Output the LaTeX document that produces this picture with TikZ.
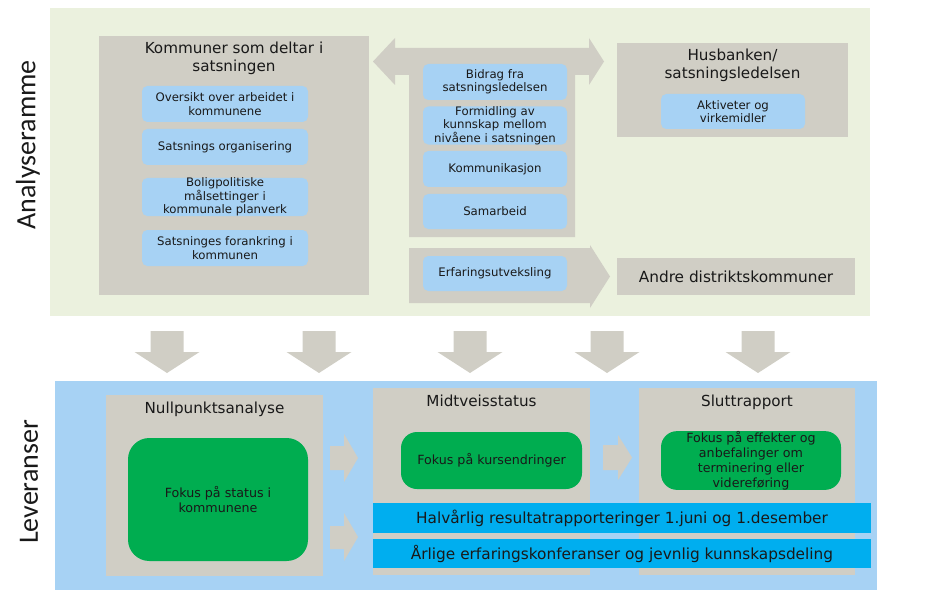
\documentclass[tikz,border=0pt]{standalone}
\usepackage{fontspec}
\setmainfont{DejaVu Sans}
\newfontfamily\labelfont{Carlito}

\definecolor{framegreen}{HTML}{EBF1DE}
\definecolor{frameblue}{HTML}{A7D2F4}
\definecolor{boxgray}{HTML}{D0CEC5}
\definecolor{itemblue}{HTML}{A7D2F4}
\definecolor{focusgreen}{HTML}{00AD50}
\definecolor{barcyan}{HTML}{00AEEF}

\begin{document}
\begin{tikzpicture}[%
    x=0.75pt, y=-0.75pt,        % work in pixels of the sketch, y downwards
    every node/.style={text=black!90},
    ]
% -------------------------------------------------
% Styles for frames, boxes and block arrows
\tikzset{
  size/.style 2 args={minimum width=#1*0.75pt, minimum height=#2*0.75pt},
  base/.style={inner sep=0pt, align=center},
  panel/.style={base, fill=boxgray},
  title/.style={base, anchor=north, font={\fontsize{11.4}{13.5}\selectfont}},
  item/.style={base, fill=itemblue, rounded corners=4pt,
    font={\fontsize{8.8}{10}\selectfont}},
  focus/.style={base, fill=focusgreen, rounded corners=12pt,
    font={\fontsize{9.5}{11.25}\selectfont}},
  bar/.style={base, fill=barcyan, font={\fontsize{11.5}{13}\selectfont}},
  blockarr/.style={fill=boxgray},
  side/.style={rotate=90, font={\labelfont\fontsize{21}{25}\selectfont}}
}
\useasboundingbox (0,0) rectangle (937,595);
% -------------------------------------------------
% The two frames
\node [base, fill=framegreen, size={820}{308}] (analyse) at (460,162) {};
\node [base, fill=frameblue, size={822}{209}] (lever) at (466,485.5) {};
\node [side] (analyselbl) at (28,145) {Analyseramme};
\node [side] (leverlbl) at (29,482) {Leveranser};

% -------------------------------------------------
% Analysis frame
\node [panel, size={270}{259}] (kommuner) at (234,165.5) {};
\node [title] (kommunertitle) at (234,42) {Kommuner som deltar i\\satsningen};
\node [item, size={166}{36}] (oversikt) at (225,104)
  {Oversikt over arbeidet i\\kommunene};
\node [item, size={166}{36}] (organisering) at (225,147) {Satsnings organisering};
\node [item, size={166}{36}] (bolig) at (225,197)
  {Boligpolitiske\\målsettinger i\\kommunale planverk};
\node [item, size={166}{36}] (forankring) at (225,248)
  {Satsninges forankring i\\kommunen};

\node [panel, size={231}{94}] (husbanken) at (732.5,90) {};
\node [title] (husbankentitle) at (732.5,49) {Husbanken/\\satsningsledelsen};
\node [item, size={144}{35}] (aktiviteter) at (733,111.5) {Aktiveter og\\virkemidler};

\node [panel, size={238}{37}, font={\fontsize{11.5}{13.5}\selectfont}]
  (andre) at (736,276.5) {Andre distriktskommuner};

% Double arrow with the middle column
\fill [blockarr] (373,61.5) -- (395,38) -- (395,48) -- (589,48) -- (589,38)
  -- (604,61.5) -- (589,85) -- (589,75) -- (575,75) -- (575,237)
  -- (409,237) -- (409,75) -- (395,75) -- (395,85) -- cycle;
% Arrow towards the other municipalities
\fill [blockarr] (409,248) -- (590,248) -- (590,245) -- (610,276.5)
  -- (590,308) -- (590,303) -- (409,303) -- cycle;

\node [item, size={144}{36}] (bidrag) at (495,82) {Bidrag fra\\satsningsledelsen};
\node [item, size={144}{35}] (formidling) at (495,125.5)
  {Formidling av\\kunnskap mellom\\nivåene i satsningen};
\node [item, size={144}{36}] (kommunikasjon) at (495,169) {Kommunikasjon};
\node [item, size={144}{35}] (samarbeid) at (495,211.5) {Samarbeid};
\node [item, size={144}{35}] (erfaring) at (495,273.5) {Erfaringsutveksling};

% -------------------------------------------------
% Down arrows from analysis to deliverables
\foreach \cx in {167,319,470,607,758}
  \fill [blockarr] (\cx-16.5,331) -- (\cx+16.5,331) -- (\cx+16.5,352)
    -- (\cx+32.5,352) -- (\cx,373) -- (\cx-32.5,352) -- (\cx-16.5,352) -- cycle;

% -------------------------------------------------
% Deliverables frame
\node [panel, size={217}{181}] (null) at (214.5,485.5) {};
\node [title] (nulltitle) at (214.5,402) {Nullpunktsanalyse};
\node [focus, rounded corners=16pt, size={180}{123}] (status) at (218,499.5)
  {Fokus på status i\\kommunene};

\node [panel, size={217}{187}] (midtveis) at (481.5,481.5) {};
\node [title] (midtveistitle) at (481.5,395) {Midtveisstatus};
\node [focus, size={181}{57}] (kurs) at (491.5,460.5) {Fokus på kursendringer};

\node [panel, size={216}{187}] (slutt) at (747,481.5) {};
\node [title] (slutttitle) at (747,395) {Sluttrapport};
\node [focus, size={180}{57}] (effekter) at (751,460.5)
  {Fokus på effekter og\\anbefalinger om\\terminering eller\\videreføring};

\node [bar, size={498}{30}] (halvaar) at (622,518)
  {Halvårlig resultatrapporteringer 1.juni og 1.desember};
\node [bar, size={498}{29}] (aarlig) at (622,553.5)
  {Årlige erfaringskonferanser og jevnlig kunnskapsdeling};

% Small arrows between the deliverables
\fill [blockarr] (330,446) -- (344,446) -- (344,434) -- (358,458)
  -- (344,482) -- (344,470) -- (330,470) -- cycle;
\fill [blockarr] (330,526) -- (344,526) -- (344,513) -- (358,537)
  -- (344,561) -- (344,549) -- (330,549) -- cycle;
\fill [blockarr] (603,445) -- (618,445) -- (618,435) -- (632,457.5)
  -- (618,480) -- (618,470) -- (603,470) -- cycle;
% -------------------------------------------------
\end{tikzpicture}
\end{document}
